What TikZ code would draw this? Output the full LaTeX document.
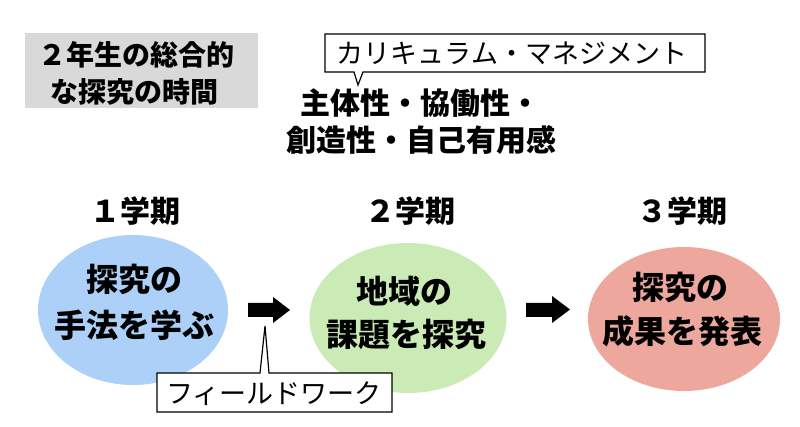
\documentclass[tikz,border=0pt]{standalone}
\usepackage{fontspec}
\setmainfont{Noto Sans CJK JP}
\usetikzlibrary{shapes.geometric}
\definecolor{titlegray}{HTML}{D9D9D9}
\definecolor{eblue}{HTML}{ACD0F7}
\definecolor{egreen}{HTML}{CBEBB6}
\definecolor{ered}{HTML}{EDA79D}
\begin{document}
\begin{tikzpicture}[x=1pt,y=-1pt,
  txt/.style={anchor=base, inner sep=0},
  titletext/.style={txt, font=\fontsize{28}{28}\selectfont\bfseries},
  calltext/.style={txt, font=\fontsize{27}{27}\selectfont},
  keytext/.style={txt, font=\fontsize{30}{30}\selectfont\bfseries},
  termtext/.style={txt, font=\fontsize{30}{30}\selectfont\bfseries},
  ovaltext/.style={txt, font=\fontsize{32}{32}\selectfont\bfseries},
  oval/.style={ellipse, draw=none, inner sep=0},
  callout/.style={draw=black, line width=1.2pt, fill=white, line join=miter},
  blockarrow/.style={fill=black}
]
\useasboundingbox (0,0) rectangle (800,427);

% title box
\node[fill=titlegray, minimum width=233, minimum height=75, inner sep=0, anchor=north west] (titlebox) at (25,33) {};
\node[titletext] (title1) at (136,65.6) {２年生の総合的};
\node[titletext] (title2) at (134,102.6) {な探究の時間};

% top callout
\draw[callout] (325,34) -- (705,34) -- (705,72) -- (363,72) -- (358,85) -- (354,72) -- (325,72) -- cycle;
\node[calltext] (cm) at (512,63.3) {カリキュラム・マネジメント};

% key words
\node[keytext] (key1) at (420,114.4) {主体性・協働性・};
\node[keytext] (key2) at (421,151.4) {創造性・自己有用感};

% terms
\node[termtext] (t1) at (135,222.4) {１学期};
\node[termtext] (t2) at (410,222.4) {２学期};
\node[termtext] (t3) at (682,222.4) {３学期};

% ovals
\node[oval, fill=eblue, minimum width=190, minimum height=150] (e1) at (133,310) {};
\node[oval, fill=egreen, minimum width=197, minimum height=150] (e2) at (408,318) {};
\node[oval, fill=ered, minimum width=192, minimum height=144] (e3) at (684,319) {};

\node[ovaltext] (e1a) at (134,291.2) {探究の};
\node[ovaltext] (e1b) at (134,337.2) {手法を学ぶ};
\node[ovaltext] (e2a) at (404,303.2) {地域の};
\node[ovaltext] (e2b) at (406,346.2) {課題を探究};
\node[ovaltext] (e3a) at (680,299.2) {探究の};
\node[ovaltext] (e3b) at (682,343.2) {成果を発表};

% block arrows
\fill[blockarrow] (248,303) -- (273,303) -- (273,297) -- (290,310) -- (273,323) -- (273,317) -- (248,317) -- cycle;
\fill[blockarrow] (526,303) -- (552,303) -- (552,296) -- (570,309.5) -- (552,323) -- (552,317) -- (526,317) -- cycle;

% bottom callout
\draw[callout] (157,373) -- (260,373) -- (265,326) -- (269,373) -- (392,373) -- (392,412) -- (157,412) -- cycle;
\node[calltext] (fw) at (274,403) {フィールドワーク};
\end{tikzpicture}
\end{document}
